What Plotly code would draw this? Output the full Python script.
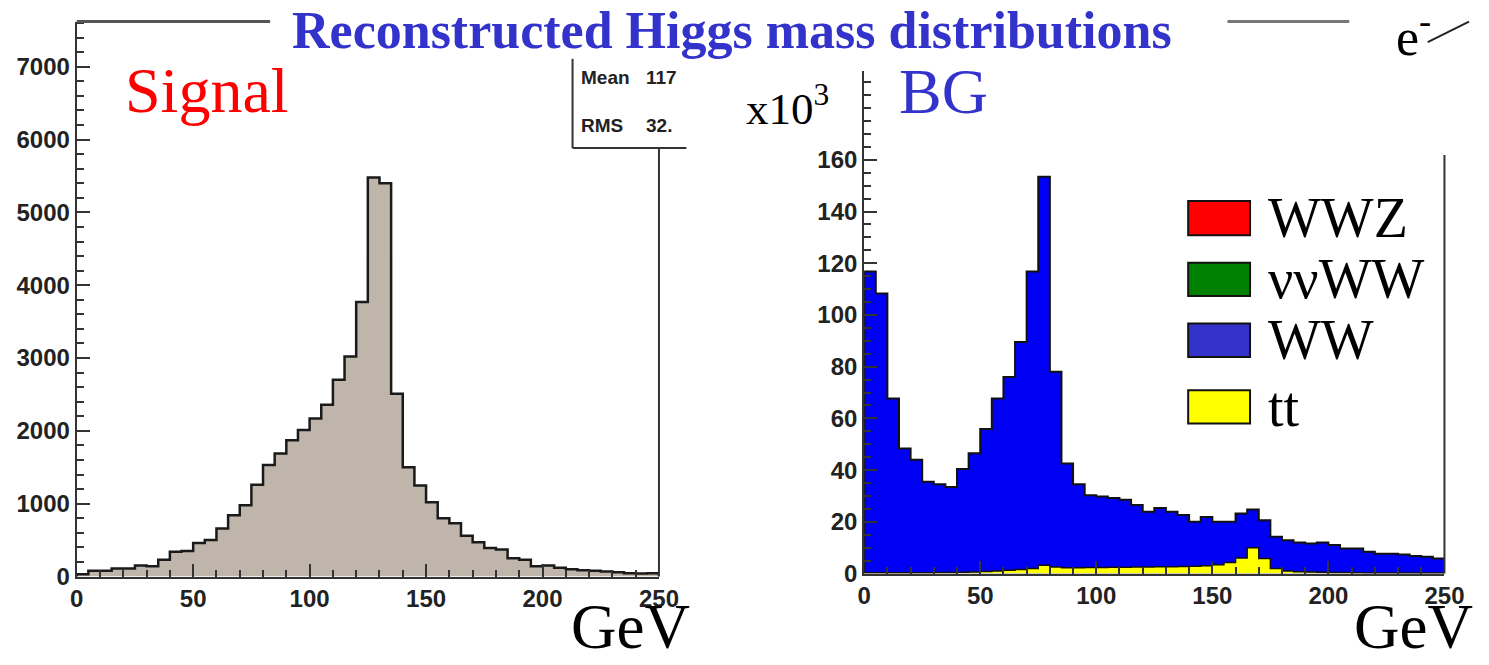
import numpy as np
import plotly.graph_objects as go

W, H = 1489, 665

# ---------------- data ----------------
bin_width = 5
bin_edges = list(range(0, 255, 5))  # 0..250 GeV

signal = [30, 80, 80, 110, 110, 150, 140, 230, 340, 350,
          460, 500, 660, 840, 980, 1260, 1530, 1690, 1870, 2010,
          2170, 2360, 2700, 3020, 3770, 5480, 5400, 2510, 1500, 1250,
          1020, 800, 730, 560, 470, 390, 370, 250, 230, 140,
          150, 120, 100, 85, 80, 70, 60, 45, 40, 45]

# background (x10^3 events)
bg_tt = [0.3, 0.3, 0.3, 0.3, 0.3, 0.3, 0.4, 0.4, 0.5, 0.6,
         0.8, 1.0, 1.3, 1.6, 2.0, 3.2, 2.5, 2.2, 2.2, 2.3,
         2.3, 2.4, 2.4, 2.5, 2.5, 2.6, 2.6, 2.7, 2.8, 3.0,
         3.4, 4.3, 6.0, 10.0, 5.8, 2.0, 1.0, 0.7, 0.6, 0.5,
         0.4, 0.4, 0.3, 0.2, 0.2, 0.2, 0.2, 0.2, 0.2, 0.2]
bg_ww = [116.5, 108.0, 67.4, 48.1, 43.7, 35.2, 34.1, 33.1, 39.9, 45.9,
         55.1, 66.7, 74.7, 87.9, 114.8, 150.2, 75.5, 40.4, 32.3, 28.0,
         27.5, 26.8, 26.1, 24.0, 21.4, 22.8, 21.3, 19.9, 17.2, 18.9,
         16.6, 15.7, 17.2, 14.8, 14.8, 12.2, 11.9, 11.3, 11.0, 11.5,
         10.6, 9.3, 9.4, 8.2, 7.5, 7.5, 7.2, 6.6, 6.3, 5.6]

legend_names = ["WWZ", "\u03bd\u03bdWW", "WW", "tt"]
legend_colors = ["#ff0000", "#008000", "#3333cc", "#ffff00"]

x_ticks = [0, 50, 100, 150, 200, 250]
sig_yticks = [0, 1000, 2000, 3000, 4000, 5000, 6000, 7000]
bg_yticks = [0, 20, 40, 60, 80, 100, 120, 140, 160]


def px(x):
    return x / W


def py(y):
    return 1 - y / H


def step_xy(values):
    xs = [bin_edges[0]] + bin_edges[:-1] + [bin_edges[-1], bin_edges[-1]]
    ys = [0] + list(values) + [values[-1], 0]
    return xs, ys


fig = go.Figure()

# signal histogram
sx, sy = step_xy(signal)
fig.add_trace(go.Scatter(x=sx, y=sy, mode="lines", line=dict(shape="hv", color="#1a1a1a", width=2.5),
                         fill="tozeroy", fillcolor="#bfb5ab", xaxis="x", yaxis="y", showlegend=False,
                         hoverinfo="skip"))

# background stack: WW on top of tt
bg_total = [a + b for a, b in zip(bg_ww, bg_tt)]
tx, ty = step_xy(bg_total)
fig.add_trace(go.Scatter(x=tx, y=ty, mode="lines", line=dict(shape="hv", color="#111111", width=2),
                         fill="tozeroy", fillcolor="#0000f5", xaxis="x2", yaxis="y2", showlegend=False,
                         hoverinfo="skip"))
ttx, tty = step_xy(bg_tt)
fig.add_trace(go.Scatter(x=ttx, y=tty, mode="lines", line=dict(shape="hv", color="#111111", width=1.5),
                         fill="tozeroy", fillcolor="#ffff00", xaxis="x2", yaxis="y2", showlegend=False,
                         hoverinfo="skip"))

tickfont = dict(family="Liberation Sans, Arial, sans-serif", size=24, color="#222222", weight="bold")
axis_common = dict(showgrid=False, zeroline=False, showline=True, linecolor="#333333", linewidth=2,
                   ticks="inside", ticklen=13, tickwidth=2, tickcolor="#333333", tickfont=tickfont)

fig.update_layout(
    width=W, height=H,
    margin=dict(l=0, r=0, t=0, b=0),
    paper_bgcolor="white", plot_bgcolor="rgba(0,0,0,0)",
    showlegend=False,
    xaxis=dict(domain=[px(71), px(664)], range=[0, 250], anchor="y", tickvals=x_ticks,
               minor=dict(ticks="inside", ticklen=7, dtick=10, tickwidth=1.5, tickcolor="#333333"),
               **axis_common),
    yaxis=dict(domain=[py(588), py(22)], range=[0, 7620], anchor="x", tickvals=sig_yticks,
               minor=dict(ticks="inside", ticklen=7, dtick=200, tickwidth=1.5, tickcolor="#333333"),
               **axis_common),
    xaxis2=dict(domain=[px(873), px(1464)], range=[0, 250], anchor="y2", tickvals=x_ticks,
                minor=dict(ticks="inside", ticklen=7, dtick=10, tickwidth=1.5, tickcolor="#333333"),
                **axis_common),
    yaxis2=dict(domain=[py(585), py(72)], range=[0, 194.5], anchor="x2", tickvals=bg_yticks,
                minor=dict(ticks="inside", ticklen=7, dtick=5, tickwidth=1.5, tickcolor="#333333"),
                **axis_common),
)

shapes = []


def line(x0, y0, x1, y1, color="#333333", width=2):
    shapes.append(dict(type="line", xref="paper", yref="paper", x0=px(x0), y0=py(y0), x1=px(x1), y1=py(y1),
                       line=dict(color=color, width=width)))


# left frame pieces
line(71, 22, 268, 22, "#555555", 3)
line(664, 151, 664, 588)
# stat box
line(576, 60, 576, 151)
line(576, 151, 692, 151)
# right frame
line(1464, 158, 1464, 585)
# decorations top right
line(1243, 22, 1367, 22, "#777777", 3)
line(1447, 43, 1489, 22, "#222222", 2)

# legend boxes
legend_y = [(205, 240), (268, 302), (330, 364), (398, 432)]
for (y0, y1), c in zip(legend_y, legend_colors):
    shapes.append(dict(type="rect", xref="paper", yref="paper", x0=px(1203), x1=px(1266),
                       y0=py(y1), y1=py(y0), fillcolor=c, line=dict(color="#111111", width=2)))

fig.update_layout(shapes=shapes)

serif = "Liberation Serif, Times New Roman, serif"
ann = []


def text(t, x, y, size, color="black", xanchor="left", family=serif, weight="normal"):
    ann.append(dict(text=t, x=px(x), y=py(y), xref="paper", yref="paper", xanchor=xanchor, yanchor="middle",
                    showarrow=False, font=dict(family=family, size=size, color=color, weight=weight)))


text("Reconstructed Higgs mass distributions", 738, 31, 52, "#3333cc", "center", weight="bold")
text("Signal", 118, 92, 64, "#ff0000")
text("BG", 906, 93, 64, "#3333cc")
text("x10<sup>3</sup>", 751, 108, 45)
text("GeV", 572, 640, 63)
text("GeV", 1370, 640, 63)
text("e<sup>-</sup>", 1413, 34, 52)
for name, (y0, y1) in zip(legend_names, legend_y):
    text(name, 1282, (y0 + y1) / 2, 56)
sans = "Liberation Sans, Arial, sans-serif"
text("Mean", 583, 79, 19, "#222222", family=sans, weight="bold")
text("117", 649, 79, 19, "#222222", family=sans, weight="bold")
text("RMS", 583, 128, 19, "#222222", family=sans, weight="bold")
text("32.", 649, 128, 19, "#222222", family=sans, weight="bold")

fig.update_layout(annotations=ann)

fig.write_html("out.html")
